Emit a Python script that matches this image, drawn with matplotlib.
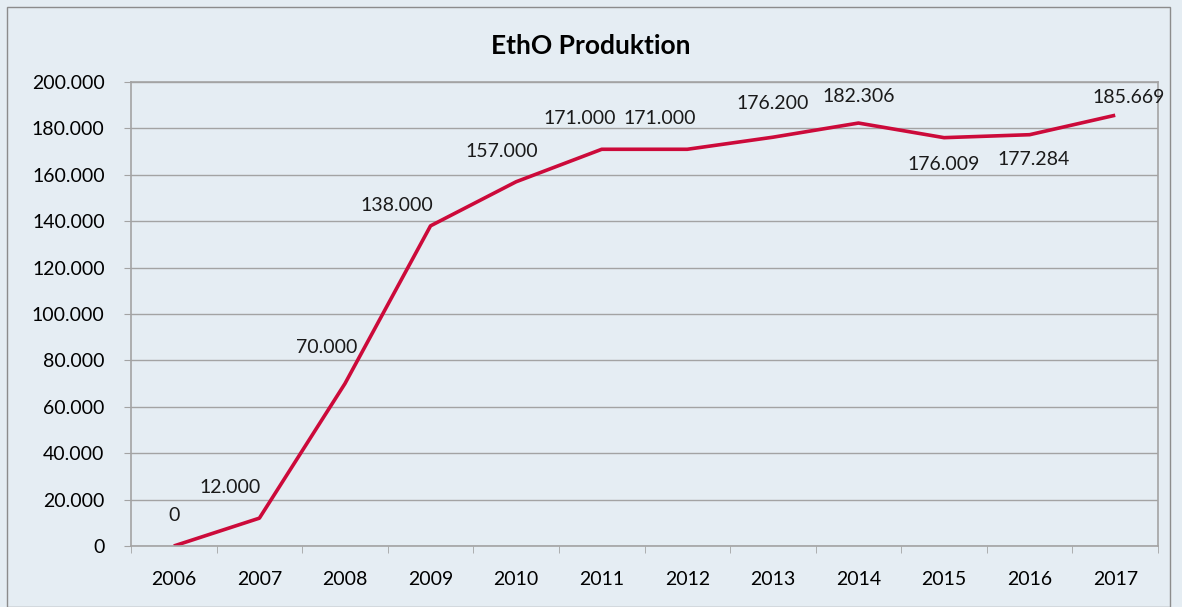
#!/usr/bin/env python3

import matplotlib
matplotlib.use('Agg')
import matplotlib.pyplot as plt
from matplotlib.patches import Rectangle
from matplotlib.ticker import FuncFormatter, MultipleLocator

plt.rcParams['font.family'] = ['Lato', 'DejaVu Sans']

# data
years = ['2006', '2007', '2008', '2009', '2010', '2011',
         '2012', '2013', '2014', '2015', '2016', '2017']
produktion = [0, 12000, 70000, 138000, 157000, 171000,
              171000, 176200, 182306, 176009, 177284, 185669]

# label offsets (points) for each data label
offsets = [(0, 22), (-21, 22), (-13, 26), (-24, 15), (-10, 22), (-16, 22),
           (-20, 22), (0, 24), (0, 19), (0, -19), (3, -18), (10, 13)]

bg = '#E5EDF3'
grid_c = '#A3A3A3'
line_c = '#CC0A3A'
fs = 14


def fmt(v, pos=None):
    return '{:,.0f}'.format(v).replace(',', '.')


fig = plt.figure(figsize=(11.82, 6.07), dpi=100)
fig.patch.set_facecolor(bg)
fig.patches.append(Rectangle((7 / 1182, 0), 1163 / 1182, 600 / 607,
                             transform=fig.transFigure, fill=False,
                             edgecolor='#8C8C8C', linewidth=1.0))

ax = fig.add_axes([131 / 1182, 61 / 607, 1027 / 1182, 464 / 607])
ax.set_facecolor(bg)

x = list(range(len(years)))
ax.plot(x, produktion, color=line_c, linewidth=2.6, solid_capstyle='butt')

for i, v in enumerate(produktion):
    ax.annotate(fmt(v), (i, v), xytext=offsets[i], textcoords='offset points',
                ha='center', va='center', fontsize=fs, color='#1a1a1a')

ax.set_xlim(-0.5, len(years) - 0.5)
ax.set_ylim(0, 200000)
ax.yaxis.set_major_locator(MultipleLocator(20000))
ax.yaxis.set_major_formatter(FuncFormatter(fmt))
ax.set_xticks(x)
ax.set_xticklabels(years)
ax.set_xticks([i - 0.5 for i in range(len(years) + 1)], minor=True)
ax.tick_params(axis='x', which='major', length=0, pad=18, labelsize=fs)
ax.tick_params(axis='x', which='minor', length=5, color=grid_c, direction='out')
ax.tick_params(axis='y', length=5, color=grid_c, labelsize=fs, pad=14)

ax.grid(axis='y', color=grid_c, linewidth=1)
ax.set_axisbelow(True)
for s in ax.spines.values():
    s.set_color(grid_c)
    s.set_linewidth(1.2)

fig.text(0.5, 1 - 46 / 607, 'EthO Produktion', ha='center', va='center',
         fontsize=19, fontweight='bold')

plt.savefig('out.png', dpi=100, facecolor=bg)
